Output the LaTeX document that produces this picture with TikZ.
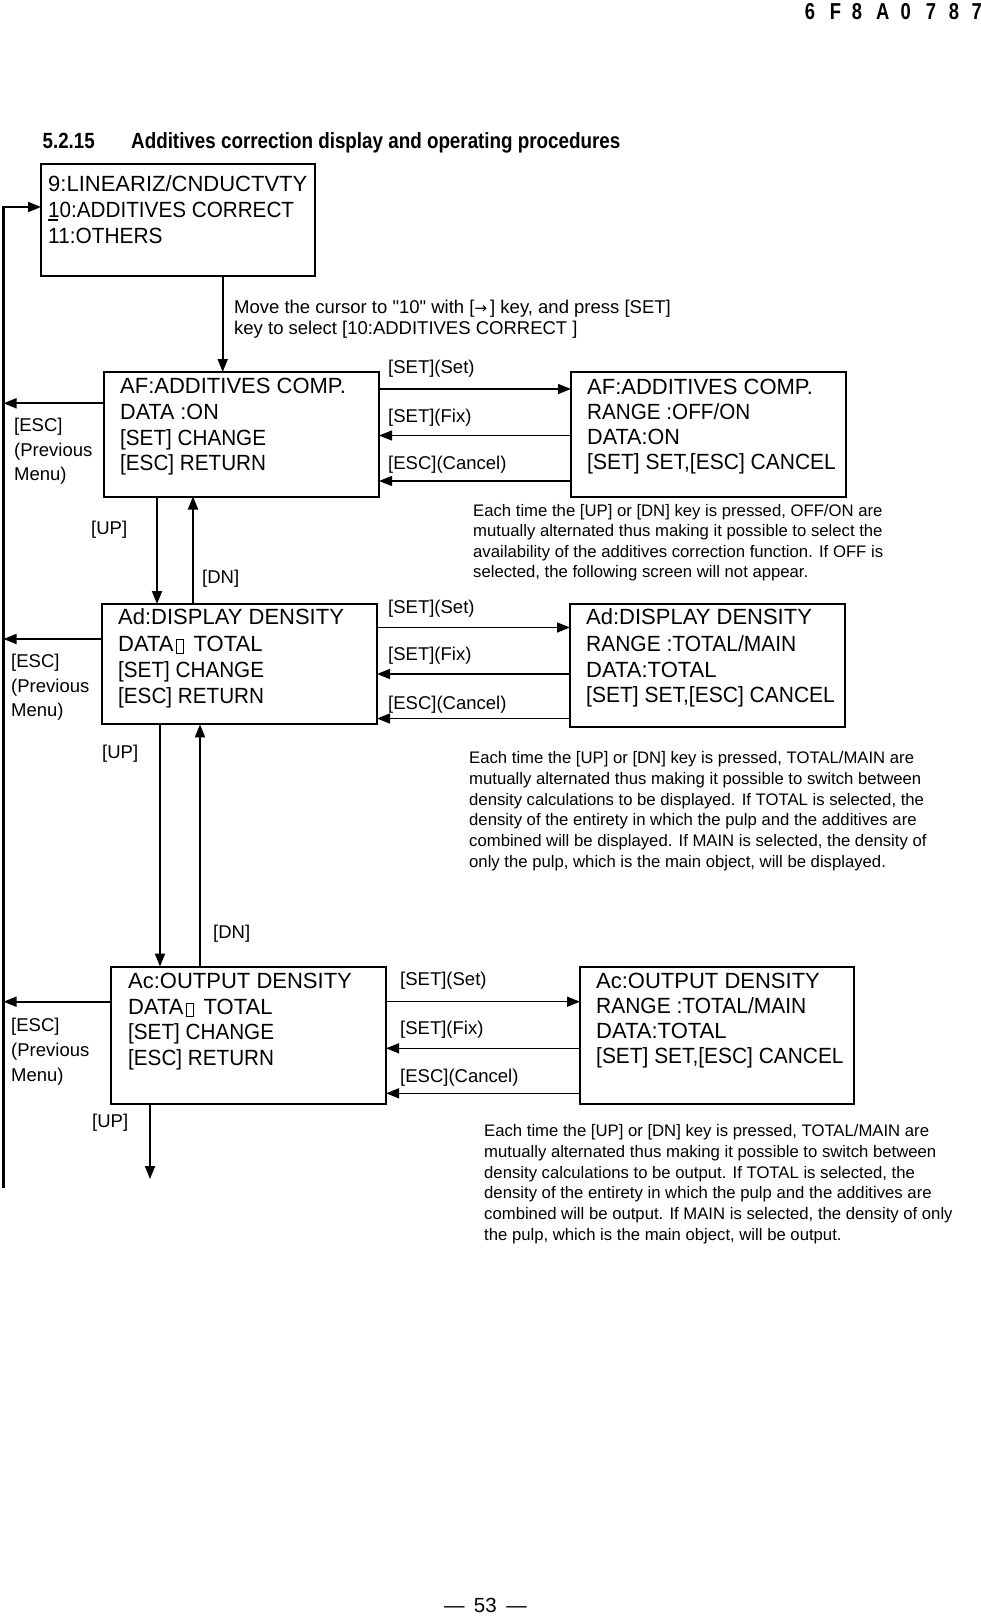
\documentclass[tikz,border=0pt]{standalone}
\usepackage{fontspec}
\setmainfont{Liberation Sans}[Ligatures=TeXOff]
\newfontfamily\djv{DejaVu Sans}
\usepackage{graphicx}
\usetikzlibrary{arrows.meta}
\newcommand{\missglyph}{\makebox[20pt][l]{\hspace{2pt}{\setlength{\fboxsep}{0pt}\setlength{\fboxrule}{0.8pt}\raisebox{-2pt}{\fbox{\rule{0pt}{13pt}\hspace{7pt}}}}}}
\newcommand{\sx}[2]{\scalebox{#1}[1]{#2}}
\begin{document}
\begin{tikzpicture}[x=1pt,y=-1pt,
  box/.style={draw, line width=2pt, inner sep=0pt, outer sep=0pt},
  bt/.style={font=\fontsize{22}{26}\selectfont, anchor=base west, inner sep=0pt},
  lab/.style={font=\fontsize{18.5}{21}\selectfont, anchor=base west, inner sep=0pt},
  note/.style={font=\fontsize{16.7}{20.7}\selectfont, anchor=base west, inner sep=0pt},
  hdr/.style={font=\fontsize{23}{24}\selectfont\bfseries, anchor=base, inner sep=0pt},
  ttl/.style={font=\fontsize{22}{24}\selectfont\bfseries, anchor=base west, inner sep=0pt},
  arr/.style={line width=1.8pt, -{Triangle[length=13pt,width=10pt]}},
  harr/.style={line width=1.4pt, -{Triangle[length=13pt,width=10pt]}},
]
\useasboundingbox (0,0) rectangle (981,1616);

% header
\foreach \c/\xx [count=\i] in {6/810,F/835.5,8/857,A/882.7,0/905.7,7/931,8/954,7/976.7}
  \node[hdr] (hd\i) at (\xx,19.5) {\sx{0.8}{\c}};

% title
\node[ttl] (tnum) at (42.5,148.3) {\sx{0.85}{5.2.15}};
\node[ttl] (ttext) at (131,148.3) {\sx{0.855}{Additives correction display and operating procedures}};

% box 1
\node[box, minimum width=274pt, minimum height=112pt] (b1) at (178,220) {};
\node[bt] (b1a) at (48,191.4) {9:LINEARIZ/CNDUCTVTY};
\node[bt] (b1b) at (48,217.4) {\sx{0.94}{10:ADDITIVES CORRECT}};
\node[bt] (b1c) at (48,243) {\sx{0.948}{11:OTHERS}};
\draw[line width=2pt] (48,220) -- (58,220);

\node[lab] (mv1) at (234,313.4) {Move the cursor to "10" with [{\djv\fontsize{15}{18}\selectfont →}\,] key, and press [SET]};
\node[lab] (mv2) at (234,334.4) {key to select [10:ADDITIVES CORRECT ]};

% box 2 pair
\node[box, minimum width=275pt, minimum height=124.5pt] (b2) at (241.5,434.25) {};
\node[bt] (b2a) at (120,393.4) {AF:ADDITIVES COMP.};
\node[bt] (b2b) at (120,419.4) {\sx{0.98}{DATA :ON}};
\node[bt] (b2c) at (120,445) {\sx{0.94}{[SET] CHANGE}};
\node[bt] (b2d) at (120,470) {\sx{0.94}{[ESC] RETURN}};

\node[box, minimum width=275pt, minimum height=124.5pt] (b2r) at (708.5,434.25) {};
\node[bt] (b2ra) at (587,394) {AF:ADDITIVES COMP.};
\node[bt] (b2rb) at (587,419.6) {\sx{0.94}{RANGE :OFF/ON}};
\node[bt] (b2rc) at (587,444.4) {\sx{0.98}{DATA:ON}};
\node[bt] (b2rd) at (587,469.4) {\sx{0.955}{[SET] SET,[ESC] CANCEL}};

\node[lab] (s2a) at (388,373.7) {[SET](Set)};
\node[lab] (s2b) at (388,422.7) {[SET](Fix)};
\node[lab] (s2c) at (388,469.7) {[ESC](Cancel)};
\node[lab] (e2a) at (14,431.7) {[ESC]};
\node[lab] (e2b) at (14,456.7) {(Previous};
\node[lab] (e2c) at (14,480.7) {Menu)};

\foreach \t [count=\i] in {{Each time the [UP] or [DN] key is pressed, OFF/ON are},{mutually alternated thus making it possible to select the},{availability of the additives correction function. If OFF is},{selected, the following screen will not appear.}}
  \node[note] (na\i) at (473,{516+20.6*(\i-1)}) {\t};

\node[lab] (up2) at (91,534.3) {[UP]};
\node[lab] (dn2) at (202,583.7) {[DN]};

% box 3 pair
\node[box, minimum width=275pt, minimum height=120.3pt] (b3) at (239.5,664.15) {};
\node[bt] (b3a) at (118,624.6) {Ad:DISPLAY DENSITY};
\node[bt] (b3b) at (118,651) {DATA\missglyph TOTAL};
\node[bt] (b3c) at (118,677) {\sx{0.94}{[SET] CHANGE}};
\node[bt] (b3d) at (118,703) {\sx{0.94}{[ESC] RETURN}};

\node[box, minimum width=275pt, minimum height=123pt] (b3r) at (707.5,665) {};
\node[bt] (b3ra) at (586,624.6) {Ad:DISPLAY DENSITY};
\node[bt] (b3rb) at (586,651.4) {\sx{0.953}{RANGE :TOTAL/MAIN}};
\node[bt] (b3rc) at (586,677) {DATA:TOTAL};
\node[bt] (b3rd) at (586,702) {\sx{0.955}{[SET] SET,[ESC] CANCEL}};

\node[lab] (s3a) at (388,613.7) {[SET](Set)};
\node[lab] (s3b) at (388,660.7) {[SET](Fix)};
\node[lab] (s3c) at (388,709.7) {[ESC](Cancel)};
\node[lab] (e3a) at (11,667.7) {[ESC]};
\node[lab] (e3b) at (11,692.7) {(Previous};
\node[lab] (e3c) at (11,716.7) {Menu)};

\foreach \t [count=\i] in {{Each time the [UP] or [DN] key is pressed, TOTAL/MAIN are},{mutually alternated thus making it possible to switch between},{density calculations to be displayed. If TOTAL is selected, the},{density of the entirety in which the pulp and the additives are},{combined will be displayed. If MAIN is selected, the density of},{only the pulp, which is the main object, will be displayed.}}
  \node[note] (nb\i) at (469,{763.4+20.8*(\i-1)}) {\t};

\node[lab] (up3) at (102,758.7) {[UP]};
\node[lab] (dn3) at (213,938.3) {[DN]};

% box 4 pair
\node[box, minimum width=275pt, minimum height=137.5pt] (b4) at (248.5,1035.25) {};
\node[bt] (b4a) at (128,988) {Ac:OUTPUT DENSITY};
\node[bt] (b4b) at (128,1014.4) {DATA\missglyph TOTAL};
\node[bt] (b4c) at (128,1039) {\sx{0.94}{[SET] CHANGE}};
\node[bt] (b4d) at (128,1065) {\sx{0.94}{[ESC] RETURN}};

\node[box, minimum width=274pt, minimum height=137.5pt] (b4r) at (717,1035.25) {};
\node[bt] (b4ra) at (596,988) {Ac:OUTPUT DENSITY};
\node[bt] (b4rb) at (596,1013.6) {\sx{0.953}{RANGE :TOTAL/MAIN}};
\node[bt] (b4rc) at (596,1038) {DATA:TOTAL};
\node[bt] (b4rd) at (596,1063) {\sx{0.95}{[SET] SET,[ESC] CANCEL}};

\node[lab] (s4a) at (400,985.7) {[SET](Set)};
\node[lab] (s4b) at (400,1034.7) {[SET](Fix)};
\node[lab] (s4c) at (400,1082.7) {[ESC](Cancel)};
\node[lab] (e4a) at (11,1031.7) {[ESC]};
\node[lab] (e4b) at (11,1056.7) {(Previous};
\node[lab] (e4c) at (11,1081.7) {Menu)};

\foreach \t [count=\i] in {{Each time the [UP] or [DN] key is pressed, TOTAL/MAIN are},{mutually alternated thus making it possible to switch between},{density calculations to be output. If TOTAL is selected, the},{density of the entirety in which the pulp and the additives are},{combined will be output. If MAIN is selected, the density of only},{the pulp, which is the main object, will be output.}}
  \node[note] (nc\i) at (484,{1136.5+20.8*(\i-1)}) {\t};

\node[lab] (up4) at (92,1127.4) {[UP]};

% page number
\node[font=\fontsize{20.5}{22}\selectfont, anchor=base, inner sep=0pt] (pg) at (485.4,1612) {—\hspace{9.5pt}53\hspace{9.5pt}—};

% connectors
\coordinate (lb) at (3.5,1188);
\coordinate (upend) at (150,1179);
\draw[arr, line width=2.2pt] (lb) -- (lb |- 0,207) -- (b1.west |- 0,207);
\draw[arr] (b1.south -| 222.7,0) -- (b2.north -| 222.7,0);

\draw[arr] (b2.west |- 0,403.3) -- (lb |- 0,403.3);
\draw[arr] (b3.west |- 0,639) -- (lb |- 0,639);
\draw[arr] (b4.west |- 0,1001.7) -- (lb |- 0,1001.7);

\draw[harr] (b2.east |- 0,389) -- (b2r.west |- 0,389);
\draw[harr] (b2r.west |- 0,435.5) -- (b2.east |- 0,435.5);
\draw[harr] (b2r.west |- 0,481) -- (b2.east |- 0,481);

\draw[harr] (b3.east |- 0,627.5) -- (b3r.west |- 0,627.5);
\draw[harr] (b3r.west |- 0,674) -- (b3.east |- 0,674);
\draw[harr] (b3r.west |- 0,718.5) -- (b3.east |- 0,718.5);

\draw[harr] (b4.east |- 0,1001.7) -- (b4r.west |- 0,1001.7);
\draw[harr] (b4r.west |- 0,1048.3) -- (b4.east |- 0,1048.3);
\draw[harr] (b4r.west |- 0,1093.3) -- (b4.east |- 0,1093.3);

\draw[arr] (b2.south -| 157,0) -- (b3.north -| 157,0);
\draw[arr] (b3.north -| 193,0) -- (b2.south -| 193,0);
\draw[arr] (b3.south -| 160,0) -- (b4.north -| 160,0);
\draw[arr] (b4.north -| 200,0) -- (b3.south -| 200,0);
\draw[arr] (b4.south -| upend) -- (upend);
\end{tikzpicture}
\end{document}
